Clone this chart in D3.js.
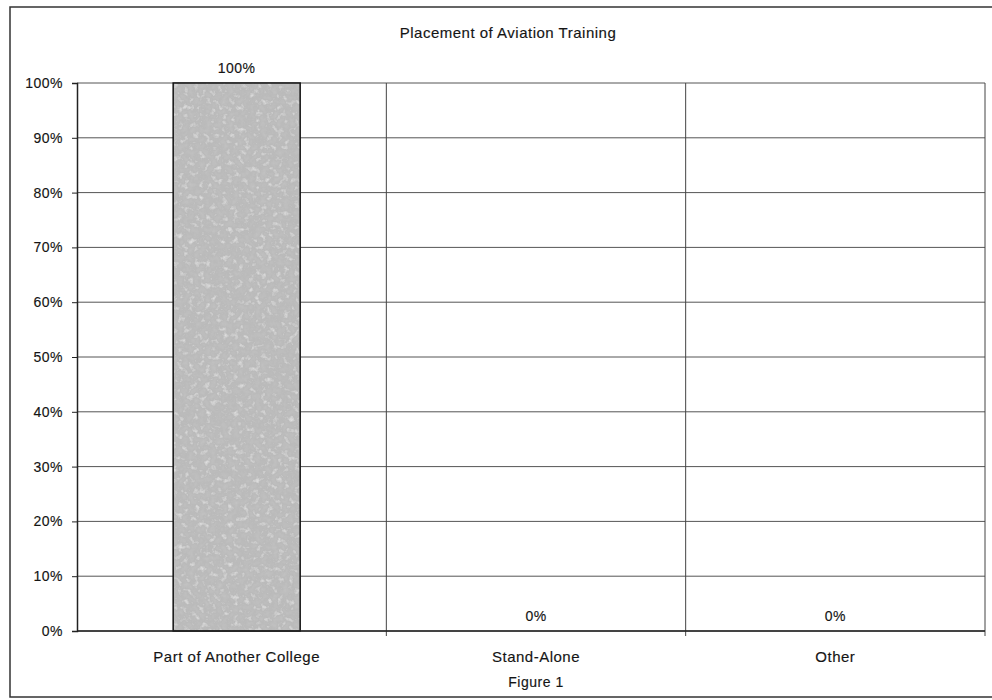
<!DOCTYPE html>
<html>
<head>
<meta charset="utf-8">
<script src="https://cdn.jsdelivr.net/npm/d3@7"></script>
<style>
  html, body { margin: 0; padding: 0; background: #fff; }
  svg { display: block; }
  text {
    font-family: "Liberation Sans", Arial, sans-serif;
    fill: #151515;
    stroke: #151515;
    stroke-width: 0.15px;
    letter-spacing: 0.5px;
  }
</style>
</head>
<body>
<svg id="chart" width="992" height="700"></svg>
<script>
// Chart data
const categories = ["Part of Another College", "Stand-Alone", "Other"];
const values = [1.0, 0.0, 0.0];
const yTicks = [0, 0.1, 0.2, 0.3, 0.4, 0.5, 0.6, 0.7, 0.8, 0.9, 1.0];
const title = "Placement of Aviation Training";
const caption = "Figure 1";

const svg = d3.select("#chart");
const plot = { left: 77, right: 985, top: 83, bottom: 631 };

const x = d3.scaleBand()
  .domain(categories)
  .range([plot.left + 10, plot.right])
  .paddingInner(0)
  .paddingOuter(0);

const y = d3.scaleLinear()
  .domain([0, 1])
  .range([plot.bottom, plot.top]);

const fmt = d3.format(".0%");
const rows = categories.map((c, i) => ({ c, v: values[i] }));

// Mottled fill for the bar
const defs = svg.append("defs");
const grain = defs.append("filter")
  .attr("id", "grain")
  .attr("x", 0).attr("y", 0).attr("width", 1).attr("height", 1);
grain.append("feTurbulence")
  .attr("type", "fractalNoise")
  .attr("baseFrequency", 0.18)
  .attr("numOctaves", 3)
  .attr("seed", 7)
  .attr("result", "noise");
grain.append("feColorMatrix")
  .attr("in", "noise")
  .attr("type", "matrix")
  .attr("values", "0 0 0 0 0.55  0 0 0 0 0.55  0 0 0 0 0.55  1.8 0 0 0 -0.85")
  .attr("result", "dark");
grain.append("feColorMatrix")
  .attr("in", "noise")
  .attr("type", "matrix")
  .attr("values", "0 0 0 0 0.88  0 0 0 0 0.88  0 0 0 0 0.88  -1.8 0 0 0 0.8")
  .attr("result", "light");
grain.append("feMerge").call(m => {
  m.append("feMergeNode").attr("in", "SourceGraphic");
  m.append("feMergeNode").attr("in", "dark");
  m.append("feMergeNode").attr("in", "light");
});
grain.append("feGaussianBlur").attr("stdDeviation", 0.5);

// Outer frame
svg.append("rect")
  .attr("x", 10).attr("y", 7)
  .attr("width", 1000).attr("height", 690)
  .attr("fill", "none")
  .attr("stroke", "#333")
  .attr("stroke-width", 1.5);

// Title
svg.append("text")
  .attr("x", 508).attr("y", 38)
  .attr("text-anchor", "middle")
  .style("font-size", "15px")
  .text(title);

// Horizontal gridlines
svg.append("g")
  .selectAll("line")
  .data(yTicks)
  .join("line")
  .attr("x1", plot.left).attr("x2", plot.right)
  .attr("y1", d => y(d)).attr("y2", d => y(d))
  .attr("stroke", "#555")
  .attr("stroke-width", 1);

// Vertical separators between categories and right edge
const bounds = categories.map(c => x(c) + x.bandwidth());
svg.append("g")
  .selectAll("line")
  .data(bounds)
  .join("line")
  .attr("x1", d => d).attr("x2", d => d)
  .attr("y1", plot.top).attr("y2", plot.bottom + 5)
  .attr("stroke", "#444")
  .attr("stroke-width", 1);

// Bars
const bw = 127;
const barX = d => x(d.c) + x.bandwidth() / 2 - bw / 2;
svg.append("g")
  .selectAll("rect")
  .data(rows.filter(d => d.v > 0))
  .join("rect")
  .attr("x", barX)
  .attr("y", d => y(d.v))
  .attr("width", bw)
  .attr("height", d => y(0) - y(d.v))
  .attr("fill", "#bababa")
  .attr("filter", "url(#grain)");
svg.append("g")
  .selectAll("rect")
  .data(rows.filter(d => d.v > 0))
  .join("rect")
  .attr("x", barX)
  .attr("y", d => y(d.v))
  .attr("width", bw)
  .attr("height", d => y(0) - y(d.v))
  .attr("fill", "none")
  .attr("stroke", "#111")
  .attr("stroke-width", 1.5);

// Y axis
const yAxis = d3.axisLeft(y)
  .tickValues(yTicks)
  .tickFormat(fmt)
  .tickSize(5)
  .tickPadding(9);
const gy = svg.append("g")
  .attr("transform", `translate(${plot.left},0)`)
  .call(yAxis);
gy.select(".domain").attr("stroke", "#222").attr("stroke-width", 1.5);
gy.selectAll(".tick line").attr("stroke", "#222");
gy.selectAll("text")
  .style("font-size", "14px")
  .style("font-family", "'Liberation Sans', Arial, sans-serif")
  .attr("fill", "#151515");

// X axis
const xAxis = d3.axisBottom(x).tickSize(0).tickPadding(20);
const gx = svg.append("g")
  .attr("transform", `translate(0,${plot.bottom})`)
  .call(xAxis);
gx.select(".domain").remove();
gx.append("line")
  .attr("x1", plot.left).attr("x2", plot.right)
  .attr("stroke", "#222").attr("stroke-width", 1.5);
gx.selectAll("text")
  .style("font-size", "15px")
  .style("font-family", "'Liberation Sans', Arial, sans-serif")
  .attr("fill", "#151515");

// Value labels
svg.append("g")
  .selectAll("text")
  .data(rows)
  .join("text")
  .attr("x", d => x(d.c) + x.bandwidth() / 2)
  .attr("y", d => y(d.v) - 10)
  .attr("text-anchor", "middle")
  .style("font-size", "14px")
  .text(d => fmt(d.v));

// Caption
svg.append("text")
  .attr("x", 536).attr("y", 687)
  .attr("text-anchor", "middle")
  .style("font-size", "14px")
  .text(caption);
</script>
</body>
</html>
